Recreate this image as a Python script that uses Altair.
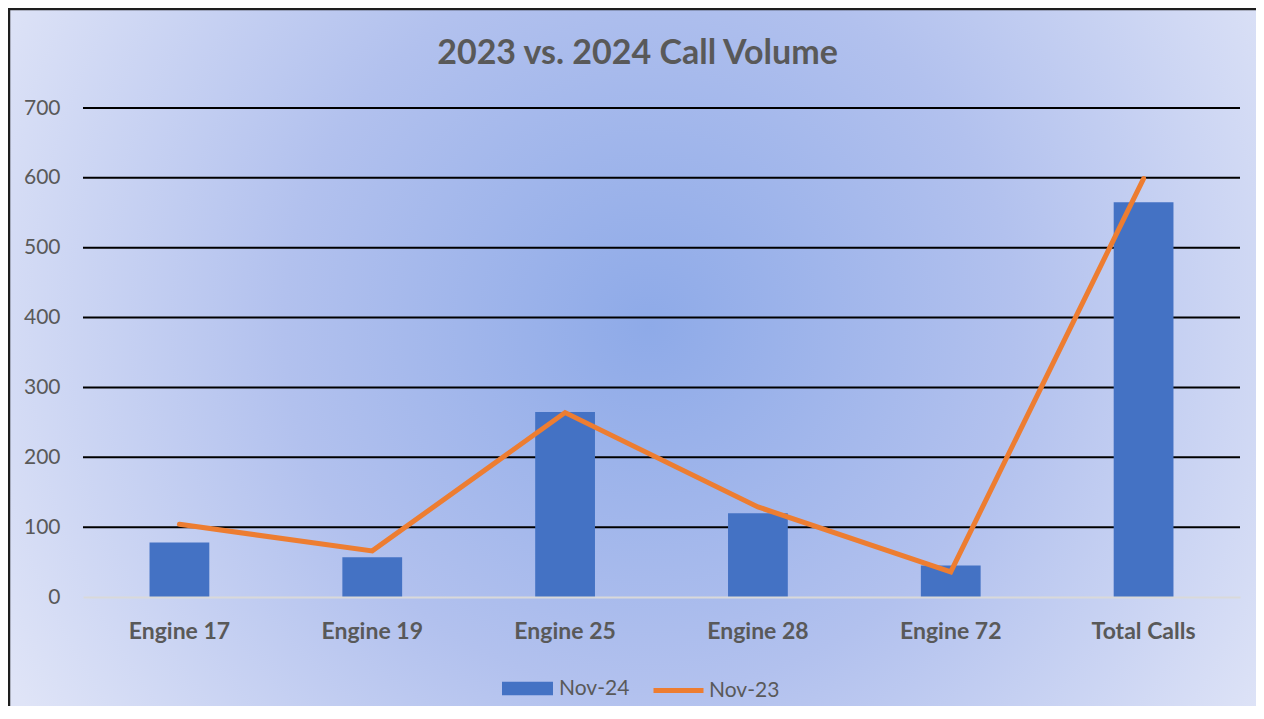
import altair as alt
import pandas as pd

categories = ["Engine 17", "Engine 19", "Engine 25", "Engine 28", "Engine 72", "Total Calls"]
nov24 = [78, 57, 265, 120, 45, 565]
nov23 = [104, 66, 264, 129, 36, 599]
y_ticks = [0, 100, 200, 300, 400, 500, 600, 700]
grid_ticks = [100, 200, 300, 400, 500, 600, 700]

W, H = 1157, 489
PAD = {"left": 75, "top": 100, "right": 16, "bottom": 109}

df = pd.DataFrame({"cat": categories, "nov24": nov24, "nov23": nov23,
                   "s24": ["Nov-24"] * 6, "s23": ["Nov-23"] * 6})
grid_df = pd.DataFrame({"v": grid_ticks})

FONT = "Lato"
TXT = "#595959"

xscale = alt.Scale(domain=categories, paddingInner=0.69, paddingOuter=0.345)
yscale = alt.Scale(domain=[0, 700])

bg = alt.Chart(alt.Data(values=[{"a": 1}])).mark_rect(
    fill={"gradient": "radial", "x1": 0.49, "y1": 0.46, "r1": 0,
          "x2": 0.49, "y2": 0.46, "r2": 0.56,
          "stops": [{"offset": 0, "color": "#8eaae8"},
                    {"offset": 0.5, "color": "#b2c1ee"},
                    {"offset": 1, "color": "#dfe4f7"}]},
    stroke="#1e1e1e", strokeWidth=2.5,
).encode(
    x=alt.value(-PAD["left"] + 1), x2=alt.value(W + PAD["right"] + 60),
    y=alt.value(-PAD["top"] + 1), y2=alt.value(H + PAD["bottom"] + 40),
)

grid = alt.Chart(grid_df).mark_rule(color="#000000", strokeWidth=2).encode(
    y=alt.Y("v:Q", scale=yscale)
)

bars = alt.Chart(df).mark_bar().encode(
    x=alt.X("cat:N", scale=xscale, sort=categories,
            axis=alt.Axis(title=None, labelAngle=0, labelFont=FONT, labelFontSize=23,
                          labelFontWeight="bold", labelColor=TXT, labelPadding=23,
                          ticks=False, domainColor="#D9D9D9", domainWidth=2,
                          grid=False, zindex=1)),
    y=alt.Y("nov24:Q", scale=yscale,
            axis=alt.Axis(title=None, values=y_ticks, labelFont=FONT, labelFontSize=21,
                          labelColor=TXT, labelPadding=23, ticks=False, domain=False,
                          grid=False, zindex=1)),
    fill=alt.Fill("s24:N", scale=alt.Scale(domain=["Nov-24"], range=["#4472C4"]),
                  legend=alt.Legend(title=None, orient="none", legendX=419, legendY=555,
                                    symbolType="M-1,-0.26L1,-0.26L1,0.26L-1,0.26Z",
                                    symbolSize=2600, symbolStrokeWidth=0,
                                    labelFont=FONT, labelFontSize=21, labelColor=TXT,
                                    labelOffset=6, padding=0)),
)

line = alt.Chart(df).mark_line(strokeWidth=5, strokeCap="round").encode(
    x=alt.X("cat:N", scale=xscale, sort=categories),
    y=alt.Y("nov23:Q", scale=yscale),
    stroke=alt.Stroke("s23:N", scale=alt.Scale(domain=["Nov-23"], range=["#ED7D31"]),
                      legend=alt.Legend(title=None, orient="none", legendX=568, legendY=555,
                                        symbolType="stroke", symbolSize=2500,
                                        symbolStrokeWidth=5,
                                        labelFont=FONT, labelFontSize=21, labelColor=TXT,
                                        labelOffset=3, padding=0)),
)

chart = alt.layer(bg, grid, bars, line).properties(
    width=W, height=H,
    title=alt.TitleParams("2023 vs. 2024 Call Volume", font=FONT, fontSize=34,
                          fontWeight="bold", color=TXT, anchor="middle", dx=-24,
                          baseline="alphabetic", offset=-90),
    autosize=alt.AutoSizeParams(type="none"),
    padding=PAD,
).resolve_scale(fill="independent", stroke="independent").configure_view(
    stroke="transparent"
)

chart.save("out.html", embed_options={"renderer": "svg", "actions": False})
